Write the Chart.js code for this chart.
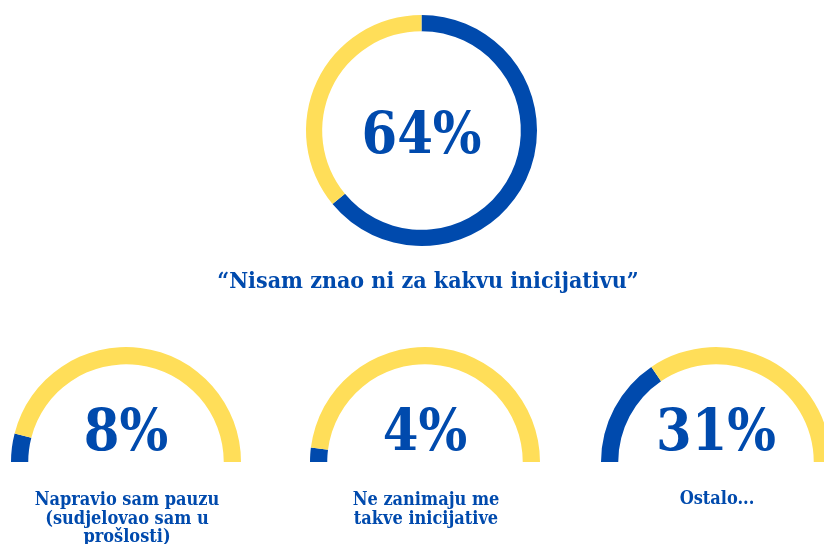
<!DOCTYPE html>
<html><head><meta charset="utf-8">
<script src="https://cdn.jsdelivr.net/npm/chart.js@4.4.1/dist/chart.umd.min.js"></script>
<style>
html,body{margin:0;padding:0;background:#fff;overflow:hidden;width:824px;height:544px;position:relative;}
canvas{position:absolute;}
</style></head><body>
<canvas id="main" width="824" height="300" style="left:0;top:0"></canvas>
<canvas id="g0" width="270" height="204"></canvas>
<canvas id="g1" width="270" height="204"></canvas>
<canvas id="g2" width="270" height="204"></canvas>
<script>
// ---- data ----
const sliceNames = ['Odgovor', 'Ostalo'];
const mainLabel = '“Nisam znao ni za kakvu inicijativu”';
const mainShare = [64, 36];
const gaugeShares = [8, 4, 31];
const gaugeRest = [92, 96, 69];
const gaugeLabels = [
  ['Napravio sam pauzu', '(sudjelovao sam u', 'prošlosti)'],
  ['Ne zanimaju me', 'takve inicijative'],
  ['Ostalo...']
];

// ---- style ----
const BLUE = '#004AAD';
const YELLOW = '#FFDE59';
const FONT = '"DejaVu Serif Condensed", "DejaVu Serif", serif';

const textPlugin = {
  id: 'texts',
  afterDraw(chart, args, opts) {
    const ctx = chart.ctx;
    ctx.save();
    ctx.fillStyle = BLUE;
    ctx.textAlign = 'center';
    ctx.textBaseline = 'alphabetic';
    (opts.items || []).forEach(it => {
      ctx.font = it.font;
      try { ctx.fontStretch = 'condensed'; } catch (e) {}
      ctx.fillText(it.text, it.x, it.y);
    });
    ctx.restore();
  }
};

function baseOpts() {
  return {
    responsive: false,
    animation: false,
    events: [],
    plugins: { legend: { display: false }, tooltip: { enabled: false } }
  };
}

// main ring
const mo = baseOpts();
mo.cutout = '86%';
mo.rotation = 0;
mo.layout = { padding: { left: 306, right: 287, top: 15, bottom: 54 } };
mo.plugins.texts = { items: [
  { text: mainShare[0] + '%', x: 421.5, y: 152.5, font: 'bold 57px ' + FONT },
  { text: mainLabel, x: 428, y: 288, font: 'bold 23px ' + FONT }
] };
new Chart(document.getElementById('main'), {
  type: 'doughnut',
  data: { labels: sliceNames, datasets: [{ data: mainShare, backgroundColor: [BLUE, YELLOW], borderWidth: 0 }] },
  options: mo,
  plugins: [textPlugin]
});

// gauges
const gaugeCenters = [125.7, 424.7, 715.7];
gaugeShares.forEach((v, i) => {
  const cv = document.getElementById('g' + i);
  cv.style.left = (gaugeCenters[i] - 135) + 'px';
  cv.style.top = '340px';
  const o = baseOpts();
  o.cutout = '85%';
  o.rotation = -90;
  o.circumference = 180;
  o.layout = { padding: { left: 20, right: 20, top: 7, bottom: 82 } };
  const items = [{ text: v + '%', x: 135, y: 110, font: 'bold 57px ' + FONT }];
  const baseY = gaugeLabels[i].length === 1 ? 164 : 165;
  gaugeLabels[i].forEach((line, k) => {
    items.push({ text: line, x: 136, y: baseY + k * 18.5, font: 'bold 18px ' + FONT });
  });
  o.plugins.texts = { items };
  new Chart(cv, {
    type: 'doughnut',
    data: { labels: sliceNames, datasets: [{ data: [v, gaugeRest[i]], backgroundColor: [BLUE, YELLOW], borderWidth: 0 }] },
    options: o,
    plugins: [textPlugin]
  });
});
</script>
</body></html>
